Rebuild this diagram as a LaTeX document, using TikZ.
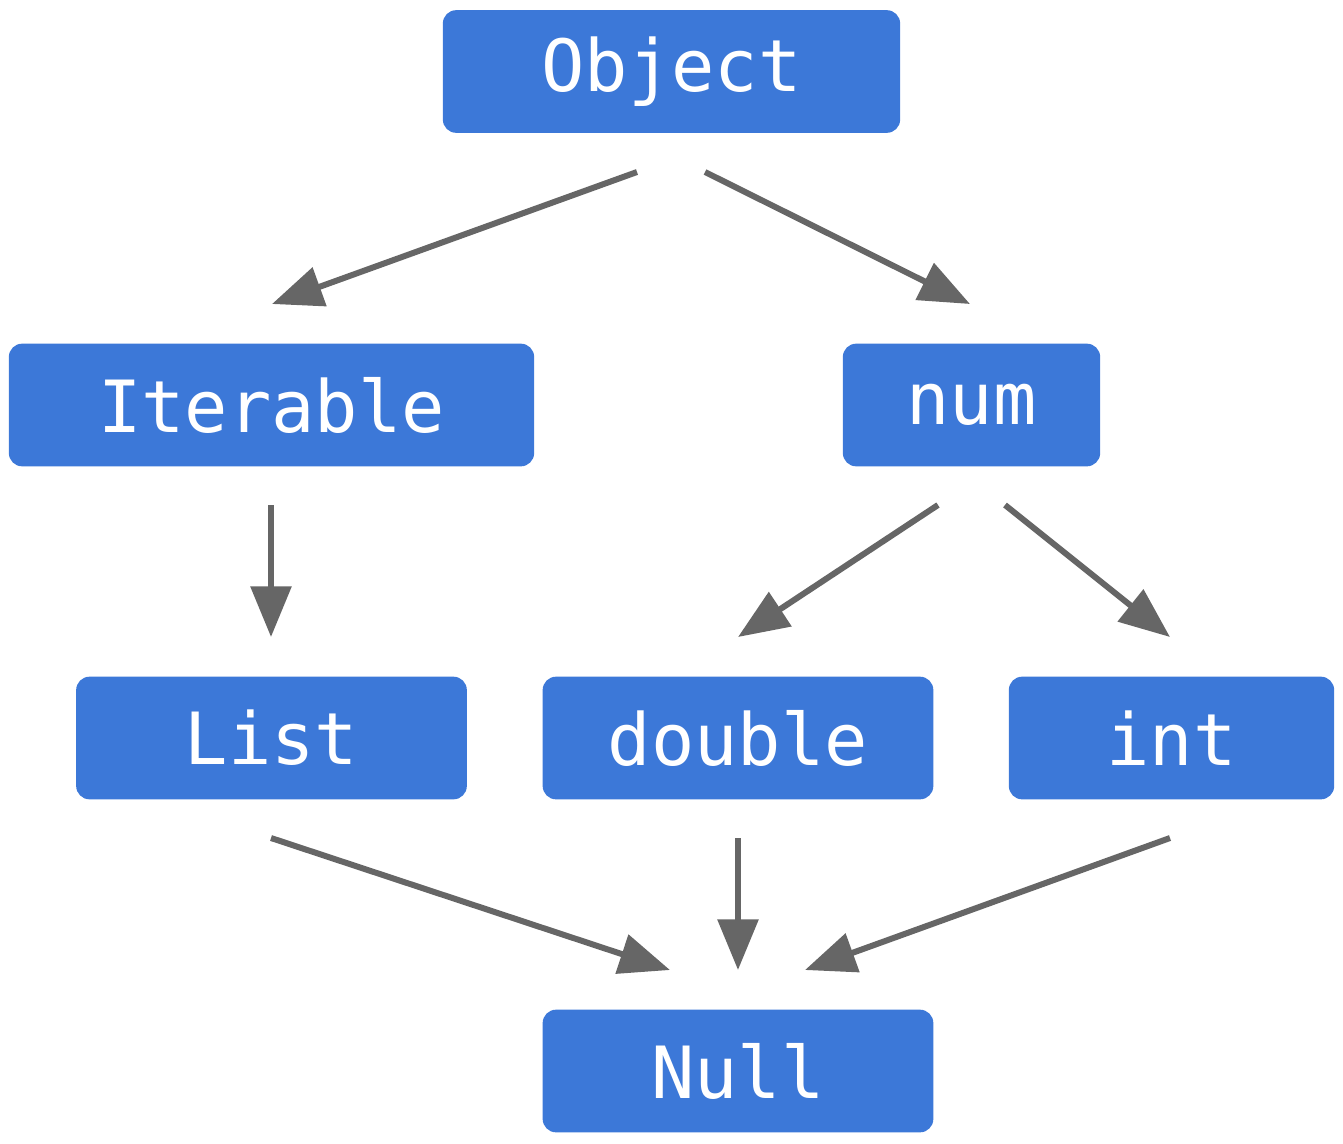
\documentclass[tikz,border=0pt]{standalone}
\usepackage{fontspec}
\setmonofont{DejaVu Sans Mono}
\usetikzlibrary{arrows.meta}
\definecolor{boxblue}{HTML}{3C78D8}
\definecolor{arrgray}{HTML}{666666}
\begin{document}
\begin{tikzpicture}[x=0.75pt,y=-0.75pt,
  box/.style={fill=boxblue,rounded corners=10pt,inner sep=0pt,minimum height=92pt,text=white,
    font=\fontsize{54}{60}\selectfont\ttfamily},
  arr/.style={draw=arrgray,line width=4.5pt,-{Triangle[length=38pt,width=30pt]}}]
\useasboundingbox (0,0) rectangle (1343,1143);
\node[box,minimum width=343pt] (obj) at (671.5,71.5) {Object};
\node[box,minimum width=394pt] (it) at (271.5,405) {Iterable};
\node[box,minimum width=193pt] (num) at (971.5,405) {num};
\node[box,minimum width=293pt] (list) at (271.5,738) {List};
\node[box,minimum width=293pt] (dbl) at (738,738) {double};
\node[box,minimum width=244pt] (int) at (1171.5,738) {int};
\node[box,minimum width=293pt] (null) at (738,1071) {Null};
\coordinate (a1) at (637,172); \coordinate (b1) at (272,304);
\coordinate (a2) at (705,172); \coordinate (b2) at (970,304);
\coordinate (a3) at (271,505); \coordinate (b3) at (271,637);
\coordinate (a4) at (938,505); \coordinate (b4) at (738,637);
\coordinate (a5) at (1005,505); \coordinate (b5) at (1170,637);
\coordinate (a6) at (271,838); \coordinate (b6) at (670,970);
\coordinate (a7) at (738,838); \coordinate (b7) at (738,970);
\coordinate (a8) at (1170,838); \coordinate (b8) at (805,970);
\foreach \i in {1,...,8} \draw[arr] (a\i) -- (b\i);
\end{tikzpicture}
\end{document}
